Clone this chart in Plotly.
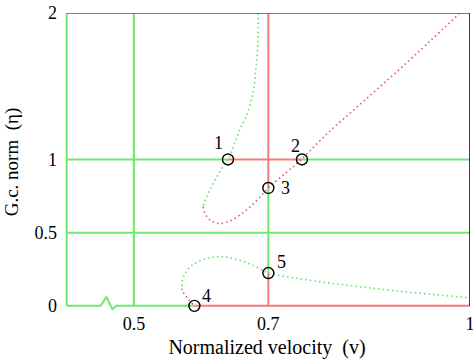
import plotly.graph_objects as go

# ---- data ----
# coordinate lines (solid)
left_v = [0.4, 0.4]; left_eta = [0.0, 2.0]
v05_v = [0.5, 0.5]; v05_eta = [0.0, 2.0]
h05_v = [0.4, 1.0]; h05_eta = [0.5, 0.5]
h1_green_a_v = [0.4, 0.64]; h1_green_a_eta = [1.0, 1.0]
h1_red_v = [0.64, 0.75]; h1_red_eta = [1.0, 1.0]
h1_green_b_v = [0.75, 1.0]; h1_green_b_eta = [1.0, 1.0]
h0_green_v = [0.4, 0.4506, 0.4591, 0.468, 0.474, 0.59]
h0_green_eta = [0.0, 0.0, 0.0616, -0.0226, 0.0, 0.0]
h0_red_v = [0.59, 1.0]; h0_red_eta = [0.0, 0.0]
v07_red_top_v = [0.7, 0.7]; v07_red_top_eta = [2.0, 0.805]
v07_green_v = [0.7, 0.7]; v07_green_eta = [0.805, 0.224]
v07_red_bot_v = [0.7, 0.7]; v07_red_bot_eta = [0.224, 0.0]

# dotted curves
upper_green_v = [0.685, 0.684, 0.681, 0.678, 0.674, 0.667, 0.659, 0.650, 0.640,
                 0.631, 0.623, 0.615, 0.608, 0.603]
upper_green_eta = [2.0, 1.75, 1.60, 1.47, 1.40, 1.29, 1.22, 1.11, 1.00,
                   0.94, 0.878, 0.81, 0.741, 0.677]
upper_red_v = [0.603, 0.605, 0.610, 0.615, 0.622, 0.628, 0.638, 0.648, 0.660,
               0.672, 0.686, 0.700, 0.727, 0.749, 0.787, 0.841, 0.901, 0.985]
upper_red_eta = [0.677, 0.638, 0.600, 0.580, 0.567, 0.563, 0.572, 0.593, 0.628,
                 0.672, 0.735, 0.805, 0.912, 1.000, 1.174, 1.395, 1.640, 2.0]
lower_red_v = [0.588, 0.582, 0.576, 0.572, 0.571]
lower_red_eta = [0.01, 0.04, 0.075, 0.105, 0.135]
lower_green_v = [0.571, 0.573, 0.578, 0.586, 0.598, 0.610, 0.623, 0.635, 0.650,
                 0.667, 0.684, 0.700, 0.742, 0.792, 0.841, 0.891, 0.950, 1.0]
lower_green_eta = [0.135, 0.19, 0.235, 0.275, 0.308, 0.326, 0.335, 0.334, 0.320,
                   0.296, 0.262, 0.224, 0.189, 0.155, 0.128, 0.102, 0.076, 0.055]

# marked points
pt_v = [0.64, 0.75, 0.70, 0.59, 0.70]
pt_eta = [1.0, 1.0, 0.805, 0.0, 0.224]
pt_labels = ["1", "2", "3", "4", "5"]

x_ticks = [0.5, 0.7, 1.0]; x_ticktext = ["0.5", "0.7", "1"]
y_ticks = [0, 0.5, 1, 2]; y_ticktext = ["0", "0.5", "1", "2"]

# ---- styles ----
GREEN = "#6ee86e"
RED = "#f77a7a"
DGREEN = "#6fe06f"
DRED = "#e0607a"
FONT = "Liberation Serif"

fig = go.Figure()

def solid(xs, ys, color):
    fig.add_trace(go.Scatter(x=xs, y=ys, mode="lines",
                             line=dict(color=color, width=2), hoverinfo="skip"))

def dotted(xs, ys, color):
    fig.add_trace(go.Scatter(x=xs, y=ys, mode="lines", line_shape="spline",
                             line=dict(color=color, width=1.6, dash="1.6px,3px"),
                             hoverinfo="skip"))

solid(left_v, left_eta, GREEN)
solid(v05_v, v05_eta, GREEN)
solid(h05_v, h05_eta, GREEN)
solid(h1_green_a_v, h1_green_a_eta, GREEN)
solid(h1_green_b_v, h1_green_b_eta, GREEN)
solid(h0_green_v, h0_green_eta, GREEN)
solid(v07_green_v, v07_green_eta, GREEN)
solid(h1_red_v, h1_red_eta, RED)
solid(h0_red_v, h0_red_eta, RED)
solid(v07_red_top_v, v07_red_top_eta, RED)
solid(v07_red_bot_v, v07_red_bot_eta, RED)

dotted(upper_green_v, upper_green_eta, DGREEN)
dotted(upper_red_v, upper_red_eta, DRED)
dotted(lower_red_v, lower_red_eta, DRED)
dotted(lower_green_v, lower_green_eta, DGREEN)

fig.add_trace(go.Scatter(x=pt_v, y=pt_eta, mode="markers",
                         marker=dict(symbol="circle-open", size=11, color="black",
                                     line=dict(color="black", width=1.4)),
                         cliponaxis=False, hoverinfo="skip"))

offsets = [(-10, 16), (-6, 13), (17, 0), (12, 10), (13, 11)]
for v, e, t, (dx, dy) in zip(pt_v, pt_eta, pt_labels, offsets):
    fig.add_annotation(x=v, y=e, text=t, showarrow=False, xshift=dx, yshift=dy,
                       font=dict(family=FONT, size=18, color="black"))

# frame (top and right)
fig.add_shape(type="line", x0=0.4, x1=1.0, y0=2.0, y1=2.0, xref="x", yref="y",
              line=dict(color="#555555", width=1.5), layer="above")
fig.add_shape(type="line", x0=1.0, x1=1.0, y0=0.0, y1=2.0, xref="x", yref="y",
              line=dict(color="black", width=1.5), layer="above")

fig.update_layout(
    width=473, height=362,
    margin=dict(l=64, r=3, t=13, b=51, autoexpand=False),
    paper_bgcolor="white", plot_bgcolor="white",
    showlegend=False,
    font=dict(family=FONT, size=18, color="black"),
    xaxis=dict(range=[0.396, 1.0], tickvals=x_ticks, ticktext=x_ticktext,
               showgrid=False, zeroline=False, showline=False, ticks="",
               automargin=False, ticklabeloverflow="allow",
               tickfont=dict(family=FONT, size=18, color="black"),
               title=dict(text="Normalized velocity\u00a0\u00a0(v)",
                          font=dict(family=FONT, size=20, color="black"),
                          standoff=6)),
    yaxis=dict(range=[-0.035, 2.0], tickvals=y_ticks, ticktext=y_ticktext,
               showgrid=False, zeroline=False, showline=False, ticks="",
               automargin=False, ticklabeloverflow="allow",
               tickfont=dict(family=FONT, size=18, color="black"),
               ticklabelstandoff=6,
               title=dict(text="G.c. norm\u00a0\u00a0(\u03b7)",
                          font=dict(family=FONT, size=19, color="black"),
                          standoff=10)),
)

fig.write_html("out.html")
